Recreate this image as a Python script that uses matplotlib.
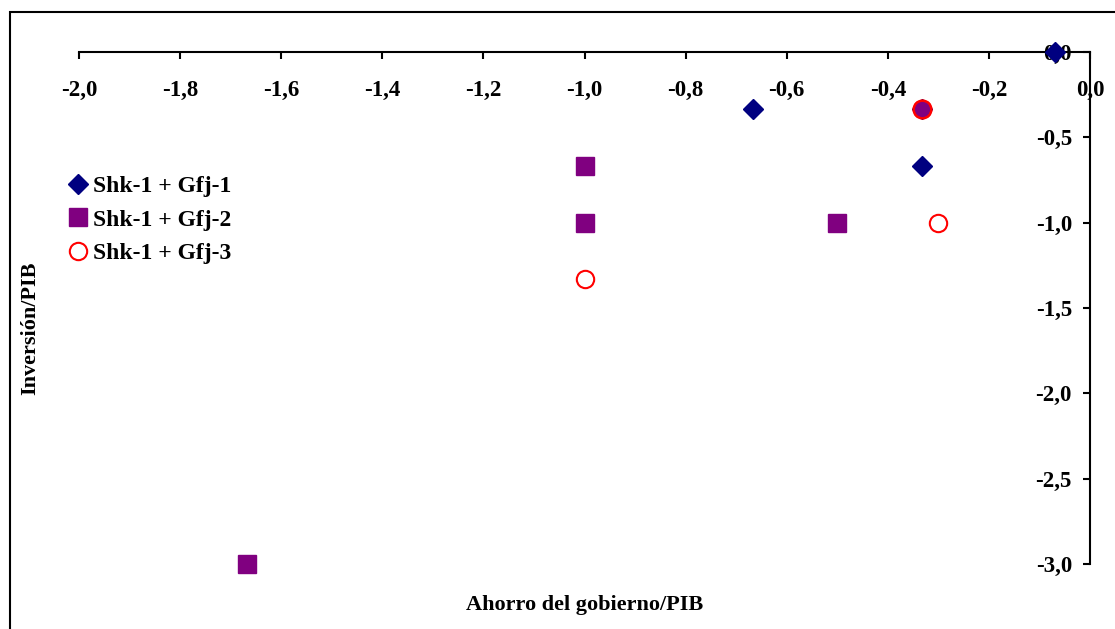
import matplotlib
matplotlib.use("Agg")
import matplotlib.pyplot as plt
from matplotlib.patches import Rectangle
from matplotlib.ticker import FuncFormatter

plt.rcParams["font.family"] = ["Liberation Serif", "DejaVu Serif"]
plt.rcParams["font.weight"] = "bold"

# data
gfj1_x = [-0.07, -0.667, -0.333, -0.333]
gfj1_y = [0.0, -0.333, -0.333, -0.667]

gfj2_x = [-1.0, -1.0, -0.5, -1.667]
gfj2_y = [-0.667, -1.0, -1.0, -3.0]

gfj3_x = [-0.333, -0.3, -1.0]
gfj3_y = [-0.333, -1.0, -1.333]

labels = ["Shk-1 + Gfj-1", "Shk-1 + Gfj-2", "Shk-1 + Gfj-3"]

fig = plt.figure(figsize=(11.15, 6.29), dpi=100)
ax = fig.add_axes([79 / 1115, 1 - 564 / 629, (1090 - 79) / 1115, (564 - 52) / 629])

# frame around the whole chart
fig.patches.append(Rectangle((10 / 1115, -0.5), 2, 0.5 + 1 - 12 / 629,
                             transform=fig.transFigure, fill=False,
                             edgecolor="black", linewidth=1.5, clip_on=False))

ax.plot(gfj1_x, gfj1_y, linestyle="none", marker="D", markersize=10.5,
        color="#000080", label=labels[0], clip_on=False, zorder=3)
ax.plot(gfj2_x, gfj2_y, linestyle="none", marker="s", markersize=13,
        color="#800080", label=labels[1], clip_on=False, zorder=3)
# the overlapping point shows purple inside the red ring
ax.plot(gfj3_x[:1], gfj3_y[:1], linestyle="none", marker="o", markersize=13,
        markerfacecolor="#800080", markeredgecolor="#FF0000",
        markeredgewidth=1.5, clip_on=False, zorder=4)
ax.plot(gfj3_x, gfj3_y, linestyle="none", marker="o", markersize=12.5,
        markerfacecolor="none", markeredgecolor="#FF0000",
        markeredgewidth=1.5, label=labels[2], clip_on=False, zorder=4)

ax.set_xlim(-2.0, 0.0)
ax.set_ylim(-3.0, 0.0)

ax.spines["top"].set_visible(False)
ax.spines["right"].set_visible(False)
ax.spines["bottom"].set_position(("data", 0))
ax.spines["left"].set_position(("data", 0))
for s in ("bottom", "left"):
    ax.spines[s].set_linewidth(1.5)

ax.set_xticks([-2.0, -1.8, -1.6, -1.4, -1.2, -1.0, -0.8, -0.6, -0.4, -0.2, 0.0])
ax.set_yticks([0.0, -0.5, -1.0, -1.5, -2.0, -2.5, -3.0])
fmt = FuncFormatter(lambda v, p: f"{v:.1f}".replace(".", ",").replace("-0,0", "0,0"))
ax.xaxis.set_major_formatter(fmt)
ax.yaxis.set_major_formatter(fmt)

ax.tick_params(axis="x", direction="out", length=5, width=1.5, pad=15, labelsize=16.5)
ax.tick_params(axis="y", direction="out", length=5, width=1.5, pad=8, labelsize=16.5)

ax.set_xlabel("Ahorro del gobierno/PIB", fontsize=16, fontweight="bold")
ax.xaxis.set_label_coords(0.5, -0.06)
ax.set_ylabel("Inversión/PIB", fontsize=16, fontweight="bold")
ax.yaxis.set_label_coords(-0.038, 0.46)

ax.legend(loc="upper left", bbox_to_anchor=(-0.034, 0.8), frameon=False,
          fontsize=17, handletextpad=0.15, labelspacing=0.5, handlelength=1.0,
          markerscale=1.0)

fig.savefig("out.png", dpi=100)
